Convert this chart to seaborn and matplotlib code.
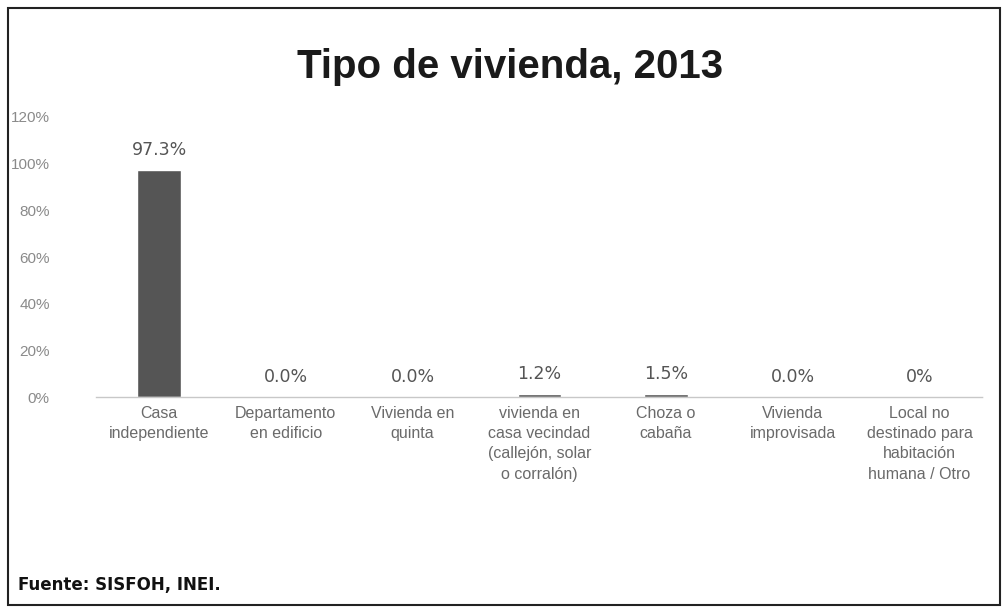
import numpy as np
import pandas as pd
import seaborn as sns
import matplotlib.pyplot as plt
from matplotlib.patches import Rectangle

# data
categorias = ['Casa\nindependiente', 'Departamento\nen edificio', 'Vivienda en\nquinta',
              'vivienda en\ncasa vecindad\n(callejón, solar\no corralón)', 'Choza o\ncabaña',
              'Vivienda\nimprovisada', 'Local no\ndestinado para\nhabitación\nhumana / Otro']
porcentajes = [97.3, 0.0, 0.0, 1.2, 1.5, 0.0, 0.0]
etiquetas = ['97.3%', '0.0%', '0.0%', '1.2%', '1.5%', '0.0%', '0%']
yticks = [0, 20, 40, 60, 80, 100, 120]

df = pd.DataFrame({'tipo': categorias, 'pct': porcentajes})

sns.set_style('white')
plt.rcParams['font.family'] = ['Liberation Sans', 'DejaVu Sans']

fig = plt.figure(figsize=(10.07, 6.12), dpi=100)
ax = fig.add_axes([0.095, 0.351, 0.881, 0.458])

sns.barplot(data=df, x='tipo', y='pct', color='#555555', width=0.34,
            saturation=1, ax=ax)

ax.set_ylim(0, 120)
ax.set_xlim(-0.5, 6.5)
ax.set_yticks(yticks)
ax.set_yticklabels([f'{t}%' for t in yticks], color='#8a8a8a', fontsize=11)
ax.tick_params(axis='y', length=0, pad=33)
ax.tick_params(axis='x', length=0, pad=6)
for lbl in ax.get_xticklabels():
    lbl.set_color('#6a6a6a')
    lbl.set_fontsize(11.5)
    lbl.set_linespacing(1.45)
ax.set_xlabel('')
ax.set_ylabel('')
for s in ['top', 'right', 'left']:
    ax.spines[s].set_visible(False)
ax.spines['bottom'].set_color('#c8c8c8')
ax.spines['bottom'].set_linestyle((0, (2, 1)))
ax.spines['bottom'].set_linewidth(1)

# value labels
for i, (v, t) in enumerate(zip(porcentajes, etiquetas)):
    ax.annotate(t, (i, v), xytext=(0, 8), textcoords='offset points',
                ha='center', va='bottom', fontsize=12.5, color='#555555',
                family=['DejaVu Sans'])

fig.text(0.507, 0.89, 'Tipo de vivienda, 2013', ha='center', va='center',
         fontsize=29, fontweight='bold', color='#1a1a1a')
fig.text(0.018, 0.044, 'Fuente: SISFOH, INEI.', ha='left', va='center',
         fontsize=12, fontweight='bold', color='#111111', family=['DejaVu Sans'])

# frame around the chart
fig.patches.append(Rectangle((0.008, 0.012), 0.985, 0.975, transform=fig.transFigure,
                             fill=False, edgecolor='#222222', linewidth=1.5))

plt.savefig('out.png', dpi=100)
